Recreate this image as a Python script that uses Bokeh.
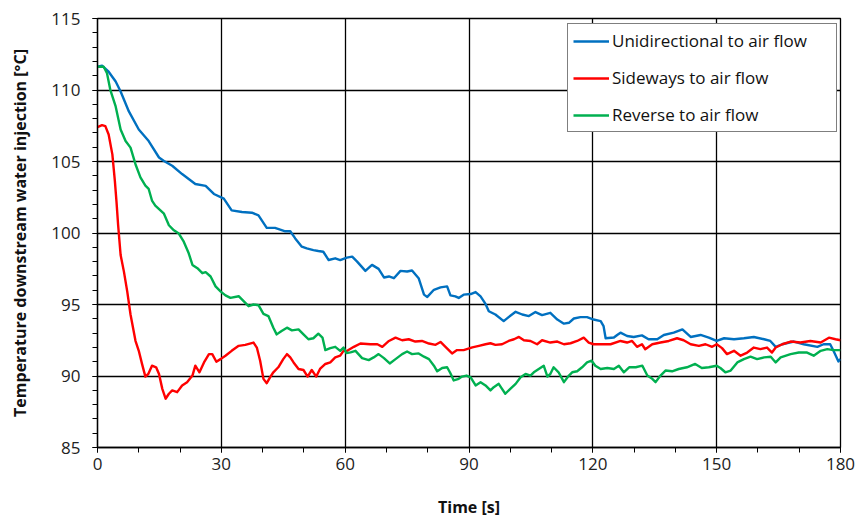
from bokeh.plotting import figure
from bokeh.models import Range1d, SingleIntervalTicker, Legend, LegendItem
from bokeh.embed import file_html
from bokeh.resources import INLINE

# ---- data ----
uni_t = [0, 1.1, 2.7, 4.4, 5.6, 7.6, 10, 12.4, 14.9, 16.1, 18.1, 20.5, 23.7, 26.2, 28.2, 30.6,
         32.5, 35, 37.4, 39, 41, 43, 45.5, 46.7, 47.9, 49.5, 50.7, 52.3, 53.5, 54.7, 56, 57.6,
         58.8, 60.4, 61.7, 62.9, 64.9, 66.5, 68.1, 69.4, 70.6, 71.8, 73.4, 75, 76.2, 77.8, 79.1,
         79.9, 81.5, 83.1, 84.7, 85.5, 86.7, 87.5, 88.7, 90.4, 91.6, 92.8, 94, 94.8, 96.4, 98.4,
         99.6, 101.3, 102.9, 104.5, 106.1, 107.7, 109.7, 111.4, 113, 114.2, 115.4, 117, 118.6,
         120.2, 121.9, 122.6, 123.1, 125.1, 125.9, 126.7, 128.3, 129.9, 131.9, 133.5, 135.6,
         137.2, 139.6, 141.7, 143.7, 146.1, 148.1, 150, 151.8, 154.2, 156.6, 159, 161.5, 163,
         164.3, 165.9, 168.7, 171.1, 174.4, 175.9, 177.5, 178.3, 179.5, 180]
uni_T = [111.63, 111.7, 111.28, 110.59, 109.9, 108.5, 107.24, 106.43, 105.28, 105.04, 104.7,
         104.12, 103.43, 103.3, 102.73, 102.4, 101.58, 101.47, 101.42, 101.23, 100.36, 100.36,
         100.12, 100.12, 99.62, 99.04, 98.92, 98.8, 98.74, 98.69, 98.11, 98.23, 98.11, 98.28,
         98.35, 98.0, 97.35, 97.77, 97.49, 96.89, 96.96, 96.84, 97.35, 97.31, 97.38, 96.84,
         95.69, 95.53, 96.03, 96.2, 96.27, 95.64, 95.57, 95.46, 95.69, 95.73, 95.87, 95.57,
         95.04, 94.53, 94.3, 93.84, 94.12, 94.49, 94.3, 94.19, 94.47, 94.26, 94.42, 93.95,
         93.66, 93.72, 94.02, 94.12, 94.12, 93.95, 93.84, 93.49, 92.64, 92.69, 92.87, 93.03,
         92.8, 92.73, 92.84, 92.57, 92.57, 92.87, 93.03, 93.26, 92.73, 92.87, 92.69, 92.45,
         92.64, 92.57, 92.64, 92.73, 92.57, 92.45, 92.04, 92.22, 92.41, 92.22, 92.04, 92.22,
         92.22, 91.76, 91.02, 91.18]

side_t = [0, 1.1, 1.9, 2.7, 3.6, 4.2, 4.6, 5.0, 5.6, 6.4, 7.2, 8, 9.2, 10, 10.8, 11.6, 12.3,
          13.2, 14.2, 14.9, 15.7, 16.5, 17.3, 18.1, 19.3, 20.5, 21.7, 23, 23.7, 24.7, 25.8, 27,
          27.8, 28.8, 29.8, 31, 32.5, 34.2, 35.8, 37.8, 38.6, 39.4, 40.2, 41, 41.8, 42.6, 43.8,
          45, 45.9, 46.7, 47.5, 48.7, 49.9, 50.9, 51.9, 53, 53.9, 55.2, 56.4, 57.6, 58.8, 59.6,
          60.5, 62.1, 63.7, 66.1, 67.8, 69, 70.6, 72.2, 73.8, 75.4, 77, 78.6, 80.3, 81.9, 83.1,
          84.3, 85.9, 87.1, 88.7, 90.8, 92.4, 94, 95.2, 96.4, 98, 99.6, 100.9, 102.1, 103.3,
          104.9, 106.5, 107.7, 109.7, 111.4, 113, 114.6, 116.2, 117.8, 119, 120.2, 121.9, 124.3,
          126.7, 128.3, 129.5, 130.7, 131.9, 132.7, 134.4, 136.4, 138.4, 140.4, 142, 143.7,
          145.7, 147.3, 148.9, 150, 151.3, 152.5, 154.2, 155.8, 157.4, 159, 160.6, 162.2, 163.4,
          164.3, 165.9, 167.9, 170.3, 172.7, 175.2, 177.2, 178.8, 180]
side_T = [107.4, 107.54, 107.47, 106.89, 105.5, 103.66, 102.2, 100.54, 98.46, 97.3, 95.92,
          94.3, 92.46, 91.76, 90.83, 89.96, 90.14, 90.72, 90.61, 90.14, 89.1, 88.41, 88.76,
          88.99, 88.87, 89.34, 89.57, 90.03, 90.72, 90.26, 90.95, 91.53, 91.53, 91.0, 91.18,
          91.42, 91.76, 92.11, 92.18, 92.34, 91.99, 91.07, 89.8, 89.5, 89.91, 90.26, 90.61,
          91.18, 91.53, 91.3, 90.95, 90.49, 90.42, 89.96, 90.42, 89.96, 90.49, 90.84, 90.95,
          91.3, 91.42, 91.76, 91.76, 92.04, 92.27, 92.22, 92.22, 92.04, 92.45, 92.68, 92.5,
          92.57, 92.41, 92.45, 92.27, 92.18, 92.38, 92.04, 91.58, 91.81, 91.81, 92.0, 92.11,
          92.22, 92.29, 92.18, 92.22, 92.45, 92.57, 92.73, 92.5, 92.45, 92.22, 92.5, 92.34,
          92.41, 92.22, 92.29, 92.45, 92.68, 92.34, 92.22, 92.22, 92.22, 92.45, 92.34, 92.45,
          92.04, 92.22, 91.87, 92.22, 92.34, 92.45, 92.64, 92.5, 92.22, 92.11, 92.22, 92.04,
          92.22, 91.95, 91.53, 91.76, 91.42, 91.64, 91.99, 91.88, 91.99, 91.64, 91.99, 92.22,
          92.41, 92.34, 92.45, 92.34, 92.68, 92.57, 92.5]

rev_t = [0, 1.5, 2.3, 3.1, 4.4, 5.6, 6.8, 8, 9.2, 10.4, 11.6, 12.4, 13.2, 14, 16.1, 17.3, 18.5,
         19.7, 20.9, 22.1, 23, 24.2, 25.4, 26.2, 27.4, 28.6, 29.8, 31, 32.2, 34.2, 35.4, 36.6,
         37.8, 39, 40.2, 41.4, 42.6, 43.4, 44.6, 45.9, 47.1, 48.7, 49.9, 51.1, 52.3, 53.5, 54.5,
         55.2, 56.4, 57.6, 58.8, 59.6, 60.3, 61.3, 62.5, 64.1, 65.7, 66.9, 68.1, 69.4, 70.8,
         72.2, 73.8, 75, 76.2, 77.8, 79.1, 80.3, 81.5, 82.3, 83.5, 84.7, 85.5, 86.3, 87.5, 88.3,
         89.4, 90.4, 91.6, 92.8, 94, 95.2, 96, 97.2, 98, 98.8, 100, 101.3, 102.5, 103.7, 104.9,
         105.7, 106.9, 108.1, 109, 109.7, 110.5, 111.7, 113, 114.2, 115, 116.2, 117.4, 118.6,
         119.7, 120.6, 121.9, 123.5, 125.1, 126.3, 127.5, 128.8, 130.4, 132, 133.2, 134.4,
         135.2, 136.4, 137.6, 139.2, 140.8, 142.8, 144.8, 146.4, 148.1, 150, 150.9, 152.1,
         153.4, 155, 156.6, 158.2, 159.8, 161.5, 163.1, 164.3, 165.5, 167.9, 169.9, 171.9,
         173.5, 175.2, 176.8, 178.3, 180]
rev_T = [111.63, 111.63, 111.17, 110.01, 108.85, 107.24, 106.43, 105.97, 104.81, 103.89,
         103.31, 103.08, 102.27, 101.92, 101.35, 100.54, 100.19, 99.96, 99.39, 98.58, 97.77,
         97.54, 97.19, 97.26, 96.96, 96.27, 95.92, 95.64, 95.46, 95.58, 95.23, 94.88, 95.0,
         94.95, 94.35, 94.19, 93.38, 92.91, 93.15, 93.38, 93.19, 93.26, 92.91, 92.57, 92.64,
         92.96, 92.69, 91.81, 91.95, 92.04, 91.76, 91.99, 91.6, 91.65, 91.76, 91.25, 91.11,
         91.3, 91.53, 91.25, 90.88, 91.18, 91.53, 91.71, 91.53, 91.58, 91.35, 91.18, 90.72,
         90.33, 90.56, 90.61, 90.19, 89.69, 89.8, 89.96, 90.03, 89.91, 89.34, 89.57, 89.34,
         88.99, 89.22, 89.45, 89.1, 88.76, 89.1, 89.45, 89.91, 90.14, 90.03, 90.26, 90.49,
         90.72, 89.96, 90.14, 90.61, 90.26, 89.57, 90.03, 90.26, 90.33, 90.61, 90.95, 91.07,
         90.72, 90.49, 90.56, 90.49, 90.72, 90.26, 90.61, 90.61, 90.72, 90.03, 89.8, 89.57,
         90.03, 90.38, 90.33, 90.49, 90.61, 90.84, 90.56, 90.61, 90.72, 90.56, 90.26, 90.38,
         90.95, 91.18, 91.35, 91.18, 91.3, 91.35, 90.95, 91.3, 91.53, 91.64, 91.64, 91.42,
         91.76, 91.88, 91.81, 91.81]

series_names = ["Unidirectional to air flow", "Sideways to air flow", "Reverse to air flow"]
series_colors = ["#0070C0", "#FF0000", "#00B050"]
x_title = "Time [s]"
y_title = "Temperature downstream water injection [°C]"

FONT = "Open Sans"

p = figure(width=858, height=520, output_backend="svg", toolbar_location=None,
           x_range=Range1d(0, 180), y_range=Range1d(85, 115))
p.min_border_left = 97
p.min_border_right = 18
p.min_border_top = 18
p.min_border_bottom = 69
p.background_fill_color = "white"
p.border_fill_color = "white"
p.outline_line_color = "black"
p.outline_line_width = 1.3

p.xaxis.ticker = SingleIntervalTicker(interval=30, num_minor_ticks=3)
p.yaxis.ticker = SingleIntervalTicker(interval=5, num_minor_ticks=5)

for ax in (p.xaxis[0], p.yaxis[0]):
    ax.axis_line_color = "black"
    ax.axis_line_width = 1.3
    ax.major_tick_line_color = "black"
    ax.minor_tick_line_color = "black"
    ax.major_tick_in = 0
    ax.major_tick_out = 5
    ax.minor_tick_in = 0
    ax.minor_tick_out = 5
    ax.major_label_text_font = FONT
    ax.major_label_text_font_size = "17px"
    ax.major_label_text_color = "#222222"
    ax.axis_label_text_font = FONT
    ax.axis_label_text_font_size = "16px"
    ax.axis_label_text_font_style = "bold"
    ax.axis_label_text_color = "#111111"

p.xaxis.axis_label = x_title
p.yaxis.axis_label = y_title
p.xaxis.major_label_standoff = 5
p.yaxis.major_label_standoff = 12
p.xaxis.axis_label_standoff = 23
p.yaxis.axis_label_standoff = 17

p.xgrid.grid_line_color = "black"
p.ygrid.grid_line_color = "black"
p.xgrid.grid_line_width = 1.3
p.ygrid.grid_line_width = 1.3

renderers = []
for xs, ys, c in ((uni_t, uni_T, series_colors[0]),
                  (side_t, side_T, series_colors[1]),
                  (rev_t, rev_T, series_colors[2])):
    r = p.line(xs, ys, line_color=c, line_width=2.4, line_join="round")
    renderers.append(r)

legend = Legend(items=[LegendItem(label=n, renderers=[r]) for n, r in zip(series_names, renderers)],
                location=(470, 315), orientation="vertical")
legend.margin = 0
legend.padding = 5
legend.spacing = 14
legend.glyph_width = 36
legend.glyph_height = 20
legend.label_height = 20
legend.label_width = 219
legend.label_standoff = 3
legend.label_text_font = FONT
legend.label_text_font_size = "17px"
legend.label_text_color = "#111111"
legend.border_line_color = "black"
legend.border_line_width = 1.2
legend.background_fill_color = "white"
legend.background_fill_alpha = 1
p.add_layout(legend)

open("out.html", "w").write(file_html(p, INLINE))
